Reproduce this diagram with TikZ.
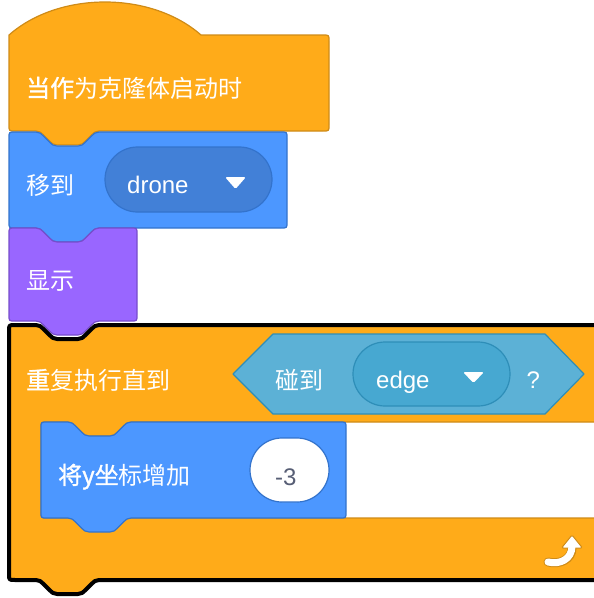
\documentclass[tikz,border=0pt]{standalone}
\usepackage{fontspec}
\setmainfont{Liberation Sans}
\newfontfamily\cjk{Noto Sans CJK SC}
\newfontfamily\cjkb[FakeBold=1.2]{Noto Sans CJK SC}
\definecolor{ctrlO}{HTML}{FFAB19}
\definecolor{ctrlD}{HTML}{CF8B17}
\definecolor{motB}{HTML}{4C97FF}
\definecolor{motD}{HTML}{3373CC}
\definecolor{motDD}{HTML}{4280D7}
\definecolor{lookP}{HTML}{9966FF}
\definecolor{lookD}{HTML}{774DCB}
\definecolor{senB}{HTML}{5CB1D6}
\definecolor{senD}{HTML}{2E8EB8}
\definecolor{senDD}{HTML}{47A8D1}
\definecolor{numtext}{HTML}{575E75}
\begin{document}
\begin{tikzpicture}[x=1pt,y=-1pt,
  notchR/.style 2 args={insert path={-- (#1,#2) .. controls ({#1+3.5},#2) and ({#1+5.25},{#2+1.75}) .. ({#1+7},{#2+3.5}) -- ({#1+14},{#2+10.5}) .. controls ({#1+15.75},{#2+12.25}) and ({#1+17.5},{#2+14}) .. ({#1+21},{#2+14}) -- ({#1+42},{#2+14}) .. controls ({#1+45.5},{#2+14}) and ({#1+47.25},{#2+12.25}) .. ({#1+49},{#2+10.5}) -- ({#1+56},{#2+3.5}) .. controls ({#1+57.75},{#2+1.75}) and ({#1+59.5},#2) .. ({#1+63},#2)}},
  notchL/.style 2 args={insert path={-- ({#1+63},#2) .. controls ({#1+59.5},#2) and ({#1+57.75},{#2+1.75}) .. ({#1+56},{#2+3.5}) -- ({#1+49},{#2+10.5}) .. controls ({#1+47.25},{#2+12.25}) and ({#1+45.5},{#2+14}) .. ({#1+42},{#2+14}) -- ({#1+21},{#2+14}) .. controls ({#1+17.5},{#2+14}) and ({#1+15.75},{#2+12.25}) .. ({#1+14},{#2+10.5}) -- ({#1+7},{#2+3.5}) .. controls ({#1+5.25},{#2+1.75}) and ({#1+3.5},#2) .. (#1,#2)}},
  ctrl/.style={fill=ctrlO, draw=ctrlD, line width=1.2, line join=round},
  motion/.style={fill=motB, draw=motD, line width=1.2, line join=round},
  looks/.style={fill=lookP, draw=lookD, line width=1.2, line join=round},
  sens/.style={fill=senB, draw=senD, line width=1.2, line join=round},
  lbl/.style={text=white, font=\fontsize{24}{24}\selectfont, inner sep=0pt, anchor=base west},
  tri/.style={fill=white, rounded corners=1.5pt},
]
\useasboundingbox (0,0) rectangle (594,598);
\clip (0,0) rectangle (594,598);

% hat block
\draw[ctrl] (9,35) .. controls (59,-9) and (151,-9) .. (201,35) -- (323,35) .. controls (329,35) .. (329,41) -- (329,125) .. controls (329,131) .. (323,131) [notchL={36}{131}] -- (15,131) .. controls (9,131) .. (9,125) -- cycle;

% move block
\draw[motion] (9,138) .. controls (9,132) .. (15,132) [notchR={36}{132}] -- (281,132) .. controls (287,132) .. (287,138) -- (287,222) .. controls (287,228) .. (281,228) [notchL={36}{228}] -- (15,228) .. controls (9,228) .. (9,222) -- cycle;
\draw[motion, fill=motDD, rounded corners=32.5pt] (105,147) rectangle (272,212);
\path[tri] (225,177) -- (246,177) -- (235.5,189) -- cycle;

% show block
\draw[looks] (9,234) .. controls (9,228) .. (15,228) [notchR={36}{228}] -- (131,228) .. controls (137,228) .. (137,234) -- (137,315) .. controls (137,321) .. (131,321) [notchL={36}{321}] -- (15,321) .. controls (9,321) .. (9,315) -- cycle;

% repeat until block
\draw[ctrl] (9,331) .. controls (9,325) .. (15,325) [notchR={36}{325}] -- (630,325) -- (630,422) [notchL={68}{422}] -- (47,422) .. controls (41,422) .. (41,428) -- (41,512) .. controls (41,518) .. (47,518) -- (630,518) -- (630,580) [notchL={36}{580}] -- (15,580) .. controls (9,580) .. (9,574) -- cycle;
\draw[black, line width=4, line join=round] (630,580) [notchL={36}{580}] -- (15,580) .. controls (9,580) .. (9,574) -- (9,331) .. controls (9,325) .. (15,325) [notchR={36}{325}] -- (630,325);

% condition
\draw[sens] (233,374) -- (273,334) -- (545,334) -- (584,374) -- (545,414) -- (273,414) -- cycle;
\draw[sens, fill=senDD, rounded corners=32pt] (353,342) rectangle (510,406);
\path[tri] (463,372) -- (484,372) -- (473.5,383) -- cycle;

% inner block
\draw[motion] (41,428) .. controls (41,422) .. (47,422) [notchR={68}{422}] -- (340,422) .. controls (346,422) .. (346,428) -- (346,512) .. controls (346,518) .. (340,518) [notchL={68}{518}] -- (47,518) .. controls (41,518) .. (41,512) -- cycle;
\draw[fill=white, draw=motD, line width=1.2, rounded corners=32pt] (250,438) rectangle (329,502);

% loop arrow
\draw[line width=9, ctrlD, line cap=round] (572,548) .. controls (572,559) and (560,565) .. (548,562);
\filldraw[fill=white, draw=ctrlD, line width=1, rounded corners=1.5pt] (572,535) -- (582.5,548) -- (561.5,548) -- cycle;
\draw[line width=7, white, line cap=round] (572,546) .. controls (572,559) and (560,565) .. (548,562);

% labels
\node[lbl] (tHat) at (26,97) {\cjkb 当作\cjk 为克隆体启动时};
\node[lbl] (tMove) at (26,194) {\cjk 移到};
\node[lbl] (tDrone) at (127,193) {drone};
\node[lbl] (tShow) at (26,289) {\cjk 显示};
\node[lbl] (tRep) at (26,389) {\cjkb 重\cjk 复执行直到};
\node[lbl] (tTouch) at (275,389) {\cjk 碰到};
\node[lbl] (tEdge) at (376,388) {edge};
\node[lbl] (tQ) at (526.5,388) {?};
\node[lbl] (tChg) at (58,484) {\cjkb 将y坐\cjk 标增加};
\node[lbl, text=numtext] (tNum) at (275,485) {-3};
\end{tikzpicture}
\end{document}
